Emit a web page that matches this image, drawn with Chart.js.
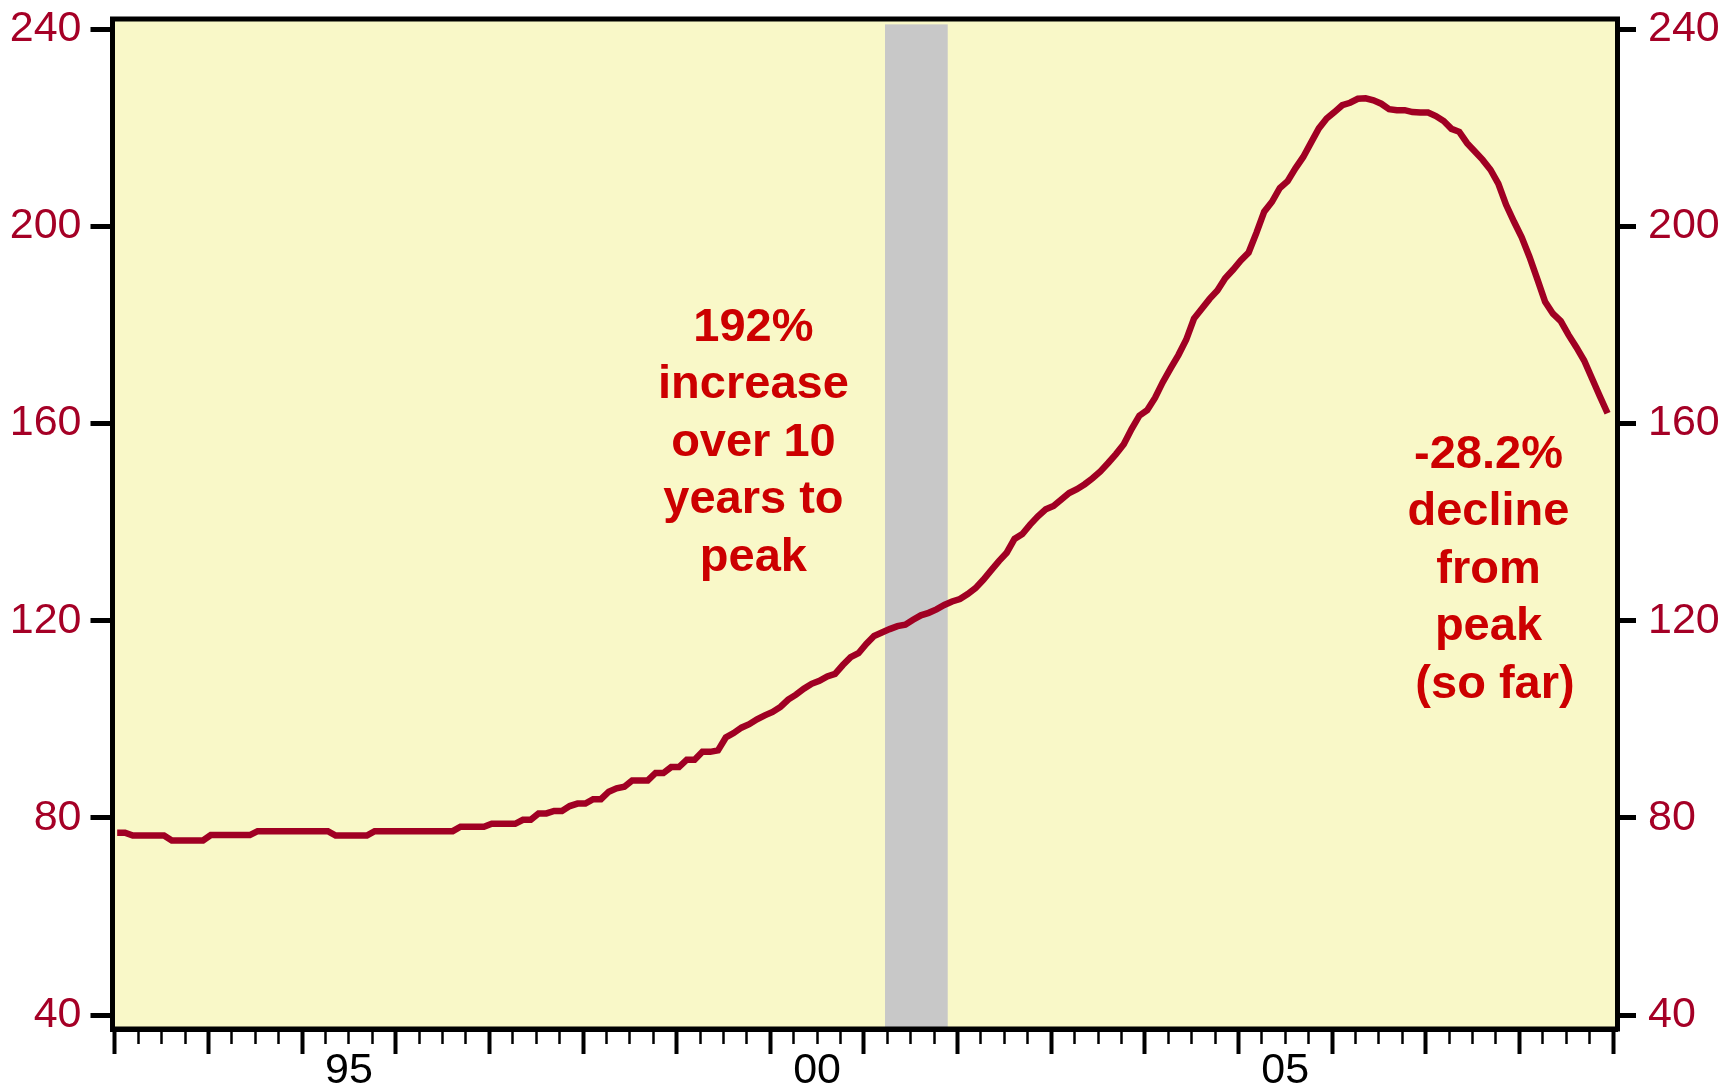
<!DOCTYPE html>
<html>
<head>
<meta charset="utf-8">
<title>Home price index</title>
<script src="https://cdn.jsdelivr.net/npm/chart.js@4.4.1/dist/chart.umd.min.js"></script>
<style>
  html, body { margin: 0; padding: 0; background: #fff; }
  canvas { display: block; }
</style>
</head>
<body>
<canvas id="hpiChart" width="1725" height="1092"></canvas>
<script>
// monthly index level, Jan 1993 .. Dec 2008 (one row per year)
const startYear = 1993;
const hpi = [
    77.0, 77.0, 76.4, 76.4, 76.4, 76.4, 76.4, 75.4, 75.4, 75.4, 75.4, 75.4,
    76.5, 76.5, 76.5, 76.5, 76.5, 76.5, 77.3, 77.3, 77.3, 77.3, 77.3, 77.3,
    77.3, 77.3, 77.3, 77.3, 76.4, 76.4, 76.4, 76.4, 76.4, 77.3, 77.3, 77.3,
    77.3, 77.3, 77.3, 77.3, 77.3, 77.3, 77.3, 77.3, 78.2, 78.2, 78.2, 78.2,
    78.8, 78.8, 78.8, 78.8, 79.6, 79.6, 80.9, 80.9, 81.4, 81.4, 82.4, 82.9,
    82.9, 83.8, 83.8, 85.3, 86.0, 86.3, 87.6, 87.6, 87.6, 89.1, 89.1, 90.3,
    90.3, 91.8, 91.8, 93.4, 93.4, 93.7, 96.3, 97.2, 98.3, 99.0, 100.0, 100.8,
    101.5, 102.5, 104.0, 105.0, 106.2, 107.2, 107.8, 108.7, 109.2, 111.0, 112.6, 113.4,
    115.3, 116.9, 117.6, 118.3, 118.9, 119.2, 120.2, 121.1, 121.6, 122.3, 123.2, 123.9,
    124.4, 125.4, 126.6, 128.3, 130.2, 132.1, 133.8, 136.6, 137.6, 139.5, 141.2, 142.6,
    143.3, 144.6, 145.9, 146.7, 147.7, 148.9, 150.3, 152.0, 153.8, 155.8, 158.9, 161.6,
    162.7, 165.2, 168.4, 171.2, 173.9, 177.0, 181.3, 183.3, 185.3, 187.0, 189.5, 191.2,
    193.1, 194.7, 198.7, 203.0, 205.0, 207.8, 209.2, 211.8, 214.1, 217.0, 219.9, 221.9,
    223.2, 224.6, 225.1, 225.9, 226.0, 225.6, 224.9, 223.8, 223.6, 223.6, 223.2, 223.1,
    223.1, 222.4, 221.4, 219.8, 219.2, 216.9, 215.2, 213.5, 211.5, 208.7, 204.4, 201.0,
    197.8, 193.8, 189.3, 184.7, 182.3, 180.8, 178.0, 175.5, 172.8, 169.2, 165.6, 162.1
];

const yTicks = [40, 80, 120, 160, 200, 240];
const yearTicks = [1993, 1994, 1995, 1996, 1997, 1998, 1999, 2000, 2001,
                   2002, 2003, 2004, 2005, 2006, 2007, 2008, 2009];
const labelYears = [1995, 2000, 2005];
const yearLabels = ['95', '00', '05'];

// 2001 recession (shaded)
const recessionStart = 2001.225;
const recessionEnd = 2001.895;

const riseNote = ['192%', 'increase', 'over 10', 'years to', 'peak'];
const fallNote = ['-28.2%', 'decline', 'from', 'peak', ' (so far)'];
const notes = [
    { x: 1999.82, y: 176.8, lines: riseNote },
    { x: 2007.67, y: 151.0, lines: fallNote }
];

const xMin = 1992.975, xMax = 2009.048;
const yMin = 37.16, yMax = 242.09;

const FONT = '"Liberation Sans", Arial, Helvetica, sans-serif';
const LABEL_RED = '#a50026';
const LINE_RED = '#a00023';

// quarter marks between the year boundaries
const quarterTicks = [];
yearTicks.slice(0, -1).forEach(yr => {
    quarterTicks.push(yr + 0.25, yr + 0.5, yr + 0.75);
});

// keep the plot box where we want it: no extra room for overhanging labels
function noOverhang(s) {
    s.paddingTop = 0;
    s.paddingBottom = 0;
    s.paddingLeft = 0;
    s.paddingRight = 0;
}

const backdrop = {
    id: 'backdrop',
    beforeDraw(chart) {
        const { ctx, chartArea: a, scales } = chart;
        ctx.save();
        ctx.fillStyle = '#ffffff';
        ctx.fillRect(0, 0, chart.width, chart.height);
        ctx.fillStyle = '#f9f8c8';
        ctx.fillRect(a.left, a.top, a.right - a.left, a.bottom - a.top);
        const x0 = scales.x.getPixelForValue(recessionStart);
        const x1 = scales.x.getPixelForValue(recessionEnd);
        const yTop = scales.y.getPixelForValue(241);
        ctx.fillStyle = '#c8c8c8';
        ctx.fillRect(x0, yTop, x1 - x0, a.bottom - yTop);
        ctx.restore();
    }
};

const frameAndNotes = {
    id: 'frameAndNotes',
    afterDraw(chart) {
        const { ctx, chartArea: a, scales } = chart;
        ctx.save();
        ctx.strokeStyle = '#000';
        ctx.lineWidth = 5;
        ctx.lineJoin = 'miter';
        ctx.strokeRect(a.left, a.top, a.right - a.left, a.bottom - a.top);

        ctx.fillStyle = '#cc0000';
        ctx.font = 'bold 47px ' + FONT;
        ctx.textAlign = 'center';
        ctx.textBaseline = 'alphabetic';
        notes.forEach(n => {
            const px = scales.x.getPixelForValue(n.x);
            const py = scales.y.getPixelForValue(n.y);
            n.lines.forEach((t, i) => ctx.fillText(t, px, py + i * 57.5));
        });
        ctx.restore();
    }
};

const ctx = document.getElementById('hpiChart').getContext('2d');

// eslint-disable-next-line no-undef
new Chart(ctx, {
    type: 'line',
    data: {
        datasets: [{
            label: 'Index',
            data: hpi.map((v, i) => ({ x: startYear + (i + 0.3) / 12, y: v })),
            borderColor: LINE_RED,
            borderWidth: 6.5,
            pointRadius: 0,
            tension: 0,
            fill: false,
            xAxisID: 'x',
            yAxisID: 'y'
        }]
    },
    options: {
        responsive: false,
        animation: false,
        devicePixelRatio: 1,
        layout: { padding: { top: 19, left: 0, right: 0, bottom: 0 } },
        plugins: {
            legend: { display: false },
            tooltip: { enabled: false }
        },
        scales: {
            x: {
                type: 'linear',
                position: 'bottom',
                weight: 0,
                min: xMin,
                max: xMax,
                afterBuildTicks: s => { s.ticks = quarterTicks.map(v => ({ value: v })); },
                afterFit: s => { s.height = 0; noOverhang(s); },
                ticks: { display: false },
                grid: { drawOnChartArea: false, tickLength: 15, tickWidth: 2.5, tickColor: '#000' },
                border: { display: true, color: '#000', width: 5 }
            },
            xYears: {
                type: 'linear',
                position: 'bottom',
                weight: 1,
                min: xMin,
                max: xMax,
                afterBuildTicks: s => {
                    const vals = yearTicks.concat(labelYears.map(y => y + 0.5)).sort((a, b) => a - b);
                    s.ticks = vals.map(v => ({ value: v }));
                },
                afterFit: s => { s.height = 63; noOverhang(s); },
                ticks: {
                    autoSkip: false,
                    maxRotation: 0,
                    minRotation: 0,
                    padding: 0,
                    color: '#000',
                    font: { family: FONT, size: 43, lineHeight: 0.8 },
                    callback: v => {
                        const i = labelYears.indexOf(v - 0.5);
                        return i >= 0 ? yearLabels[i] : '';
                    }
                },
                grid: {
                    drawOnChartArea: false,
                    tickLength: 25,
                    tickWidth: 4,
                    tickColor: c => Number.isInteger(c.tick.value) ? '#000' : 'rgba(0,0,0,0)'
                },
                border: { display: true, color: '#000', width: 5 }
            },
            y: {
                type: 'linear',
                position: 'left',
                min: yMin,
                max: yMax,
                afterBuildTicks: s => { s.ticks = yTicks.map(v => ({ value: v })); },
                afterFit: s => { s.width = 112.5; noOverhang(s); },
                ticks: { color: LABEL_RED, padding: 9, font: { family: FONT, size: 43, lineHeight: 0.8 } },
                grid: { drawOnChartArea: false, tickLength: 22, tickWidth: 5, tickColor: '#000' },
                border: { display: true, color: '#000', width: 5 }
            },
            y2: {
                type: 'linear',
                position: 'right',
                min: yMin,
                max: yMax,
                afterBuildTicks: s => { s.ticks = yTicks.map(v => ({ value: v })); },
                afterFit: s => { s.width = 107.5; noOverhang(s); },
                ticks: { color: LABEL_RED, padding: 12, font: { family: FONT, size: 43, lineHeight: 0.8 } },
                grid: { drawOnChartArea: false, tickLength: 18.5, tickWidth: 5, tickColor: '#000' },
                border: { display: true, color: '#000', width: 5 }
            }
        }
    },
    plugins: [backdrop, frameAndNotes]
});
</script>
</body>
</html>
